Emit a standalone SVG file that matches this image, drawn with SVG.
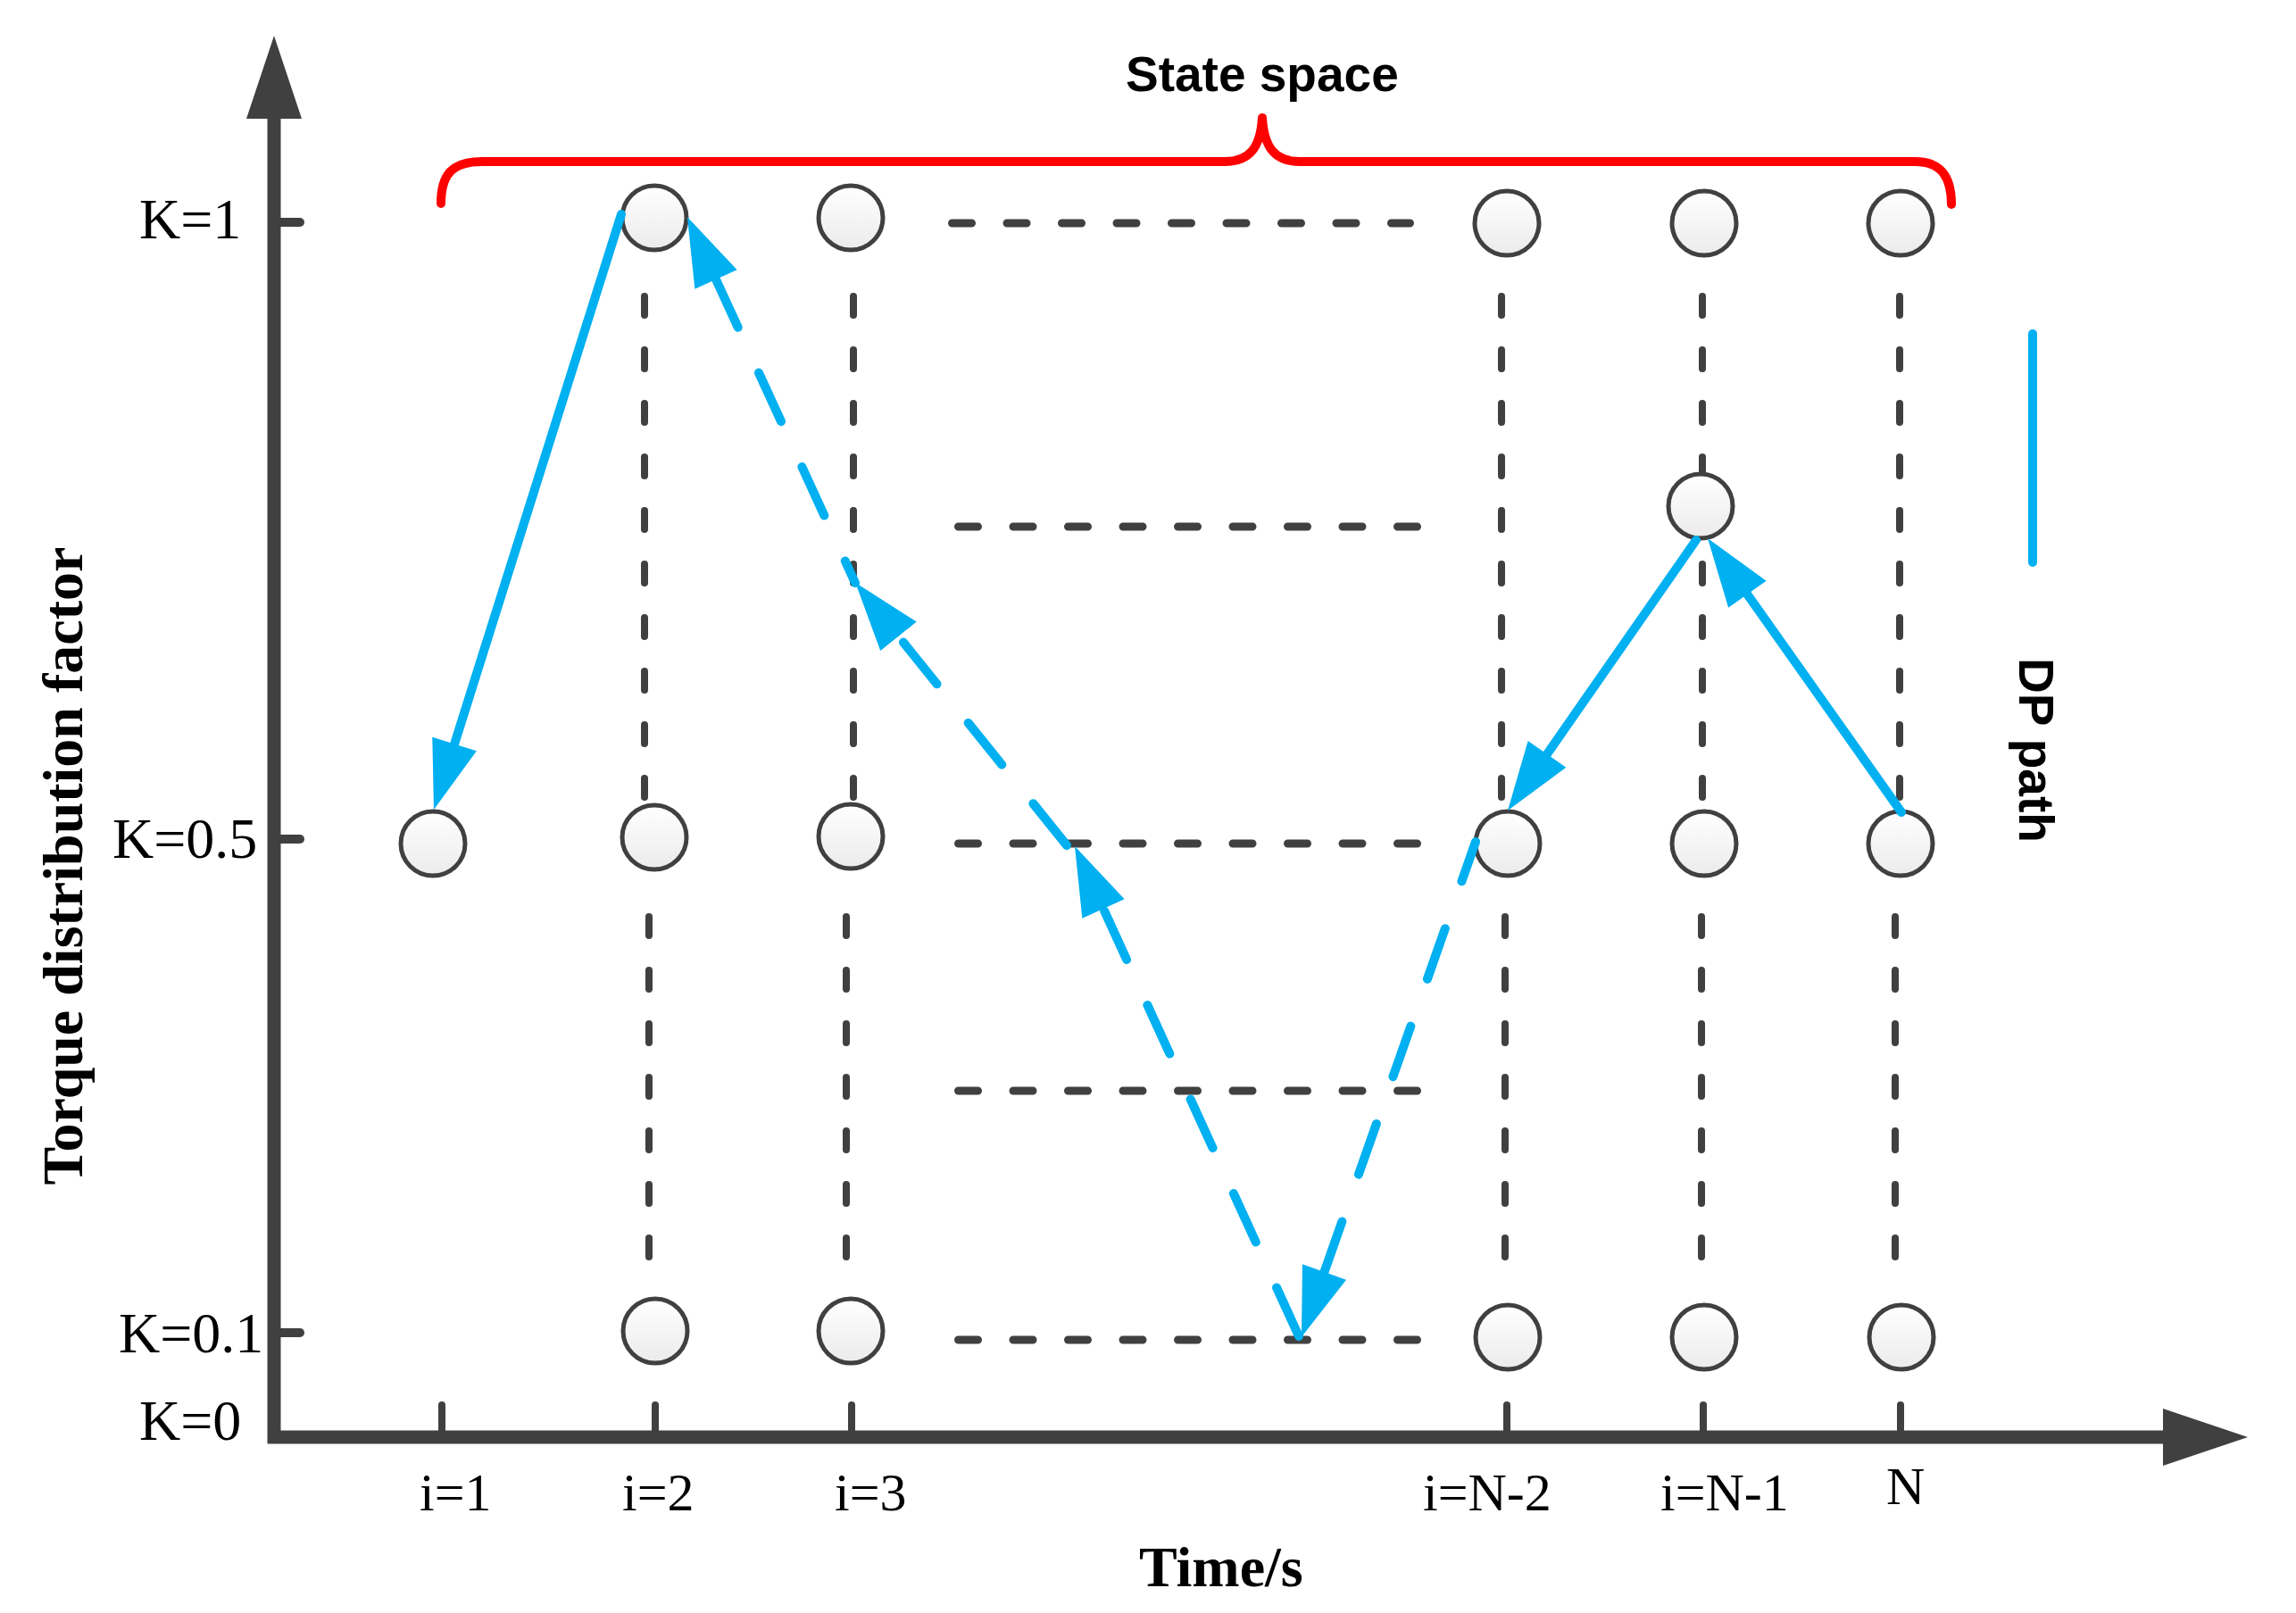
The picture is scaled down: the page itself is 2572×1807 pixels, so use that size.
<svg xmlns="http://www.w3.org/2000/svg" width="2572" height="1807" viewBox="0 0 2572 1807">
<defs>
<linearGradient id="g" x1="0" y1="0" x2="0" y2="1"><stop offset="0" stop-color="#FFFFFF"/><stop offset="1" stop-color="#EBEBEB"/></linearGradient>
<marker id="ah" markerUnits="userSpaceOnUse" markerWidth="77" markerHeight="52" viewBox="0 0 77 52" refX="0" refY="26" orient="auto" overflow="visible"><path d="M0,0 L77,26 L0,52 Z" fill="#00B0F0"/></marker>
</defs>
<style>
.node{fill:url(#g);stroke:#404040;stroke-width:5}
.vd{stroke:#404040;stroke-width:8;stroke-linecap:round;stroke-dasharray:21 39;fill:none}
.hd{stroke:#404040;stroke-width:9;stroke-linecap:round;stroke-dasharray:22 39.5;fill:none}
.axis{stroke:#404040;stroke-width:15;fill:none}
.head{fill:#404040}
.tick{stroke:#404040;stroke-width:10;stroke-linecap:round}
.bt{stroke:#404040;stroke-width:8;stroke-linecap:round}
.p{stroke:#00B0F0;stroke-width:10;stroke-linecap:round;fill:none}
.dash{stroke-dasharray:60 56}
.lab{font-family:"Liberation Serif","Times New Roman",serif;font-size:64px;fill:#000}
.xl{font-size:60px}
.bold{font-weight:bold}
.sans{font-family:"Liberation Sans",Arial,sans-serif;font-weight:bold;font-size:55px;fill:#000}
</style>
<rect x="0" y="0" width="2572" height="1807" fill="#FFFFFF"/>

<g id="grid">
<line class="vd" x1="722" y1="332" x2="722" y2="893"/>
<line class="vd" x1="727" y1="1027" x2="727" y2="1408"/>
<line class="vd" x1="956" y1="332" x2="956" y2="893"/>
<line class="vd" x1="948" y1="1027" x2="948" y2="1408"/>
<line class="vd" x1="1682" y1="332" x2="1682" y2="893"/>
<line class="vd" x1="1686" y1="1027" x2="1686" y2="1408"/>
<line class="vd" x1="1907" y1="332" x2="1907" y2="893"/>
<line class="vd" x1="1906" y1="1027" x2="1906" y2="1408"/>
<line class="vd" x1="2128" y1="332" x2="2128" y2="893"/>
<line class="vd" x1="2123" y1="1027" x2="2123" y2="1408"/>
<line class="hd" x1="1066.5" y1="250" x2="1579.5" y2="250"/>
<line class="hd" x1="1073.5" y1="590" x2="1587.5" y2="590"/>
<line class="hd" x1="1073.5" y1="945" x2="1587.5" y2="945"/>
<line class="hd" x1="1073.5" y1="1222" x2="1587.5" y2="1222"/>
<line class="hd" x1="1073.5" y1="1501" x2="1587.5" y2="1501"/>
</g>

<g id="axes">
<line class="axis" x1="307" y1="128" x2="307" y2="1617"/>
<line class="axis" x1="300" y1="1610" x2="2428" y2="1610"/>
<polygon class="head" points="307,40 276,133 338,133"/>
<polygon class="head" points="2518,1610 2423,1578 2423,1642"/>
<line class="tick" x1="307" y1="249" x2="336" y2="249"/>
<line class="tick" x1="307" y1="940" x2="336" y2="940"/>
<line class="tick" x1="307" y1="1493" x2="336" y2="1493"/>
<line class="bt" x1="495" y1="1574" x2="495" y2="1603"/>
<line class="bt" x1="734" y1="1574" x2="734" y2="1603"/>
<line class="bt" x1="954" y1="1574" x2="954" y2="1603"/>
<line class="bt" x1="1688" y1="1574" x2="1688" y2="1603"/>
<line class="bt" x1="1908" y1="1574" x2="1908" y2="1603"/>
<line class="bt" x1="2129" y1="1574" x2="2129" y2="1603"/>
</g>

<g id="labels">
<text class="lab" x="156" y="267">K=1</text>
<text class="lab" x="126" y="961">K=0.5</text>
<text class="lab" x="133" y="1515">K=0.1</text>
<text class="lab" x="156" y="1613">K=0</text>
<text class="lab xl" x="470" y="1692">i=1</text>
<text class="lab xl" x="697" y="1692">i=2</text>
<text class="lab xl" x="935" y="1692">i=3</text>
<text class="lab xl" x="1594" y="1692">i=N-2</text>
<text class="lab xl" x="1860" y="1692">i=N-1</text>
<text class="lab xl" x="2113" y="1685">N</text>
<text class="lab bold" x="1276" y="1777">Time/s</text>
<text class="lab bold" text-anchor="middle" transform="translate(92,970) rotate(-90)">Torque distribution factor</text>
<text class="sans" x="1261" y="102">State space</text>
</g>

<g id="brace">
<path d="M494,228 C494,196 506,181 540,181 L1372,181 C1400,181 1412,165 1414,132 C1416,165 1428,181 1456,181 L2145,181 C2176,181 2186,200 2186,229" fill="none" stroke="#FF0000" stroke-width="10" stroke-linecap="round" stroke-linejoin="round"/>
</g>

<g id="n-1-05"><circle class="node" cx="485" cy="945" r="36"/></g>
<g id="n-2-1"><circle class="node" cx="733" cy="244" r="36"/></g>
<g id="n-3-1"><circle class="node" cx="953" cy="244" r="36"/></g>
<g id="n-2-05"><circle class="node" cx="733" cy="938" r="36"/></g>
<g id="n-3-05"><circle class="node" cx="953" cy="937" r="36"/></g>
<g id="n-2-01"><circle class="node" cx="734" cy="1491" r="36"/></g>
<g id="n-3-01"><circle class="node" cx="953" cy="1491" r="36"/></g>
<g id="n-N2-1"><circle class="node" cx="1688" cy="250" r="36"/></g>
<g id="n-N1-1"><circle class="node" cx="1909" cy="250" r="36"/></g>
<g id="n-N-1"><circle class="node" cx="2129" cy="250" r="36"/></g>
<g id="n-N1-mid"><circle class="node" cx="1905" cy="567" r="36"/></g>
<g id="n-N2-05"><circle class="node" cx="1689" cy="945" r="36"/></g>
<g id="n-N1-05"><circle class="node" cx="1909" cy="945" r="36"/></g>
<g id="n-N-05"><circle class="node" cx="2129" cy="945" r="36"/></g>
<g id="n-N2-01"><circle class="node" cx="1689" cy="1498" r="36"/></g>
<g id="n-N1-01"><circle class="node" cx="1909" cy="1498" r="36"/></g>
<g id="n-N-01"><circle class="node" cx="2130" cy="1498" r="36"/></g>

<g id="connectors">
<line class="p" x1="696" y1="240" x2="509.1" y2="833.5" marker-end="url(#ah)"/>
<line class="p dash" x1="1455" y1="1497" x2="1236" y2="1018" marker-end="url(#ah)"/>
<line class="p dash" x1="1195" y1="947" x2="1006.5" y2="712.8" marker-end="url(#ah)"/>
<line class="p dash" stroke-dashoffset="33" x1="958" y1="653" x2="802" y2="313" marker-end="url(#ah)"/>
<line class="p dash" stroke-dashoffset="13" x1="1653" y1="943" x2="1483.5" y2="1425" marker-end="url(#ah)"/>
<line class="p" x1="1900" y1="605" x2="1733" y2="844.8" marker-end="url(#ah)"/>
<line class="p" x1="2130" y1="910" x2="1957.4" y2="665.8" marker-end="url(#ah)"/>
</g>

<g id="legend">
<line class="p" x1="2277" y1="374" x2="2277" y2="630"/>
<text class="sans" transform="translate(2262,737) rotate(90)">DP path</text>
</g>
</svg>
